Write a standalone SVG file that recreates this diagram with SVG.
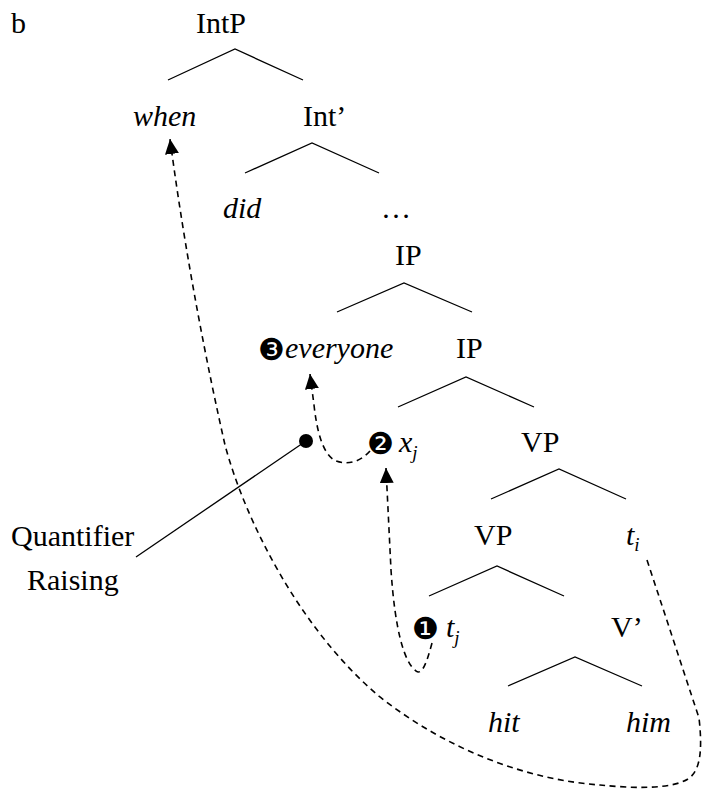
<svg xmlns="http://www.w3.org/2000/svg" width="702" height="789" viewBox="0 0 702 789">
<style>
.t{font-family:'Liberation Serif','Times New Roman',serif;font-size:30px;fill:#000}
.it{font-style:italic}
.sub{font-size:19px}
.num{font-family:'DejaVu Sans',sans-serif;font-size:30px;font-style:normal}
.edge{stroke:#000;stroke-width:1.3;fill:none}
.mv{stroke:#000;stroke-width:1.6;fill:none;stroke-dasharray:6 4.5}
</style>
<defs>
<marker id="ah" markerUnits="userSpaceOnUse" markerWidth="16" markerHeight="16" refX="15" refY="7" orient="auto">
<path d="M0,0 L15,7 L0,14 z" fill="#000"/>
</marker>
</defs>
<rect width="702" height="789" fill="#fff"/>
<g id="label-b"><text class="t" x="11" y="33">b</text></g>
<g id="IntP"><text class="t" x="196" y="33">IntP</text></g>
<g id="when"><text class="t it" x="133" y="126">when</text></g>
<g id="IntBar"><text class="t" x="303" y="126">Int’</text></g>
<g id="did"><text class="t it" x="223" y="218">did</text></g>
<g id="dots"><text class="t" x="381" y="218">…</text></g>
<g id="IP1"><text class="t" x="395" y="265">IP</text></g>
<g id="everyone"><text class="t" x="258" y="360"><tspan class="num">❸</tspan><tspan class="it" x="285" y="358">everyone</tspan></text></g>
<g id="IP2"><text class="t" x="456" y="358">IP</text></g>
<g id="xj"><text class="t" x="367" y="454"><tspan class="num">❷</tspan><tspan class="it" x="399" y="452">x</tspan><tspan class="it sub" dy="7">j</tspan></text></g>
<g id="VP1"><text class="t" x="521" y="452">VP</text></g>
<g id="VP2"><text class="t" x="474" y="545">VP</text></g>
<g id="ti"><text class="t it" x="626" y="545">t<tspan class="sub" dy="6">i</tspan></text></g>
<g id="tj"><text class="t" x="412" y="639"><tspan class="num">❶</tspan><tspan class="it" x="446" y="637">t</tspan><tspan class="it sub" dy="7">j</tspan></text></g>
<g id="VBar"><text class="t" x="611" y="637">V’</text></g>
<g id="hit"><text class="t it" x="488" y="732">hit</text></g>
<g id="him"><text class="t it" x="626" y="732">him</text></g>
<g id="QR"><text class="t" x="11" y="546">Quantifier</text><text class="t" x="27" y="590">Raising</text></g>
<g id="connectors">
<path class="edge" d="M168,80 L235,49 L303,80"/>
<path class="edge" d="M245,173 L312,143 L379,173"/>
<path class="edge" d="M337,312 L404,283 L472,312"/>
<path class="edge" d="M398,407 L466,377 L534,407"/>
<path class="edge" d="M491,499 L559,469 L626,499"/>
<path class="edge" d="M429,596 L497,566 L564,596"/>
<path class="edge" d="M508,686 L575,657 L642,686"/>
<path class="edge" d="M136,557 L306,441"/>
<circle cx="306" cy="441" r="7" fill="#000"/>
<path class="mv" marker-end="url(#ah)" d="M647,560 L699,718 C702,745 702,770 688,779 C670,790 630,788 600,785 C530,780 450,752 380,697 C300,630 245,520 225,445 C208,370 186,260 170,139"/>
<path class="mv" marker-end="url(#ah)" d="M432,643 C427,662 422,676 416,671 C404,662 395,630 391,570 L386,468"/>
<path class="mv" marker-end="url(#ah)" d="M370,451 C362,460 350,466 336,461 C323,455 317,432 314,405 L310,374"/>
</g>
</svg>
